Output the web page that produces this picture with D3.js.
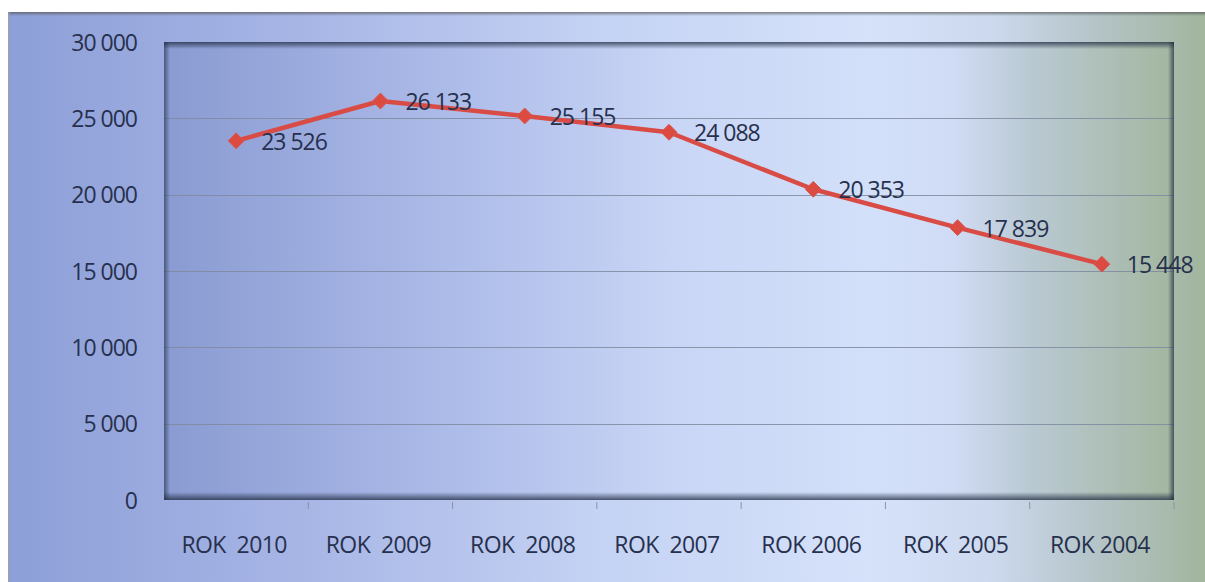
<!DOCTYPE html>
<html><head><meta charset="utf-8">
<script src="https://cdn.jsdelivr.net/npm/d3@7"></script>
<style>body{margin:0;background:#fff}svg{display:block}text{font-family:"Open Sans",sans-serif}</style>
</head><body><svg id="c" width="1205" height="582"></svg>
<script>
const categories = ["ROK  2010","ROK  2009","ROK  2008","ROK  2007","ROK 2006","ROK  2005","ROK 2004"];
const values = [23526, 26133, 25155, 24088, 20353, 17839, 15448];
const valueLabels = ["23 526","26 133","25 155","24 088","20 353","17 839","15 448"];
const yTicks = [0, 5000, 10000, 15000, 20000, 25000, 30000];
const yTickLabels = ["0","5 000","10 000","15 000","20 000","25 000","30 000"];

const svg = d3.select("#c");
const W = 1205, H = 582;
const frame = {x: 8, y: 12, w: W - 8, h: H - 12};
const plot = {l: 164, r: 1174, t: 42, b: 500};

const defs = svg.append("defs");
const bg = defs.append("linearGradient").attr("id","bg").attr("x1",0).attr("x2",1).attr("y1",0).attr("y2",0);
[[0,"#8d9fd8"],[0.25,"#a8b6e6"],[0.5,"#c5d3f4"],[0.72,"#d6e2fa"],[0.82,"#cdd9ee"],[0.9,"#b6c6cc"],[1,"#a2b59d"]]
  .forEach(([o,c])=>bg.append("stop").attr("offset",o).attr("stop-color",c));
const pg = defs.append("linearGradient").attr("id","pg").attr("x1",0).attr("x2",1).attr("y1",0).attr("y2",0);
[[0,"#8a9bd2"],[0.3,"#afbdea"],[0.5,"#c8d5f5"],[0.7,"#d3e0fa"],[0.78,"#d0dcf5"],[0.86,"#b9c9d2"],[1,"#a3b69f"]]
  .forEach(([o,c])=>pg.append("stop").attr("offset",o).attr("stop-color",c));

function edgeGrad(id, x1,y1,x2,y2, op){
  const g = defs.append("linearGradient").attr("id",id).attr("x1",x1).attr("y1",y1).attr("x2",x2).attr("y2",y2);
  g.append("stop").attr("offset",0).attr("stop-color","#1e2a40").attr("stop-opacity",op);
  g.append("stop").attr("offset",1).attr("stop-color","#1e2a40").attr("stop-opacity",0);
}
edgeGrad("sT",0,0,0,1,0.75); edgeGrad("sB",0,1,0,0,0.75); edgeGrad("sL",0,0,1,0,0.6); edgeGrad("sR",1,0,0,0,0.7);
const ft = defs.append("linearGradient").attr("id","ft").attr("x1",0).attr("y1",0).attr("x2",0).attr("y2",1);
ft.append("stop").attr("offset",0).attr("stop-color","#555").attr("stop-opacity",0.7);
ft.append("stop").attr("offset",1).attr("stop-color","#555").attr("stop-opacity",0);

svg.append("rect").attr("x",frame.x).attr("y",frame.y).attr("width",frame.w).attr("height",frame.h).attr("fill","url(#bg)");
svg.append("rect").attr("x",frame.x).attr("y",frame.y).attr("width",frame.w).attr("height",4).attr("fill","url(#ft)");
svg.append("rect").attr("x",frame.x).attr("y",frame.y).attr("width",2).attr("height",frame.h).attr("fill","#9aa0b0").attr("opacity",0.6);

svg.append("rect").attr("x",plot.l).attr("y",plot.t).attr("width",plot.r-plot.l).attr("height",plot.b-plot.t).attr("fill","url(#pg)");

const x = d3.scaleBand().domain(categories).range([plot.l, plot.r]).padding(0);
const y = d3.scaleLinear().domain([0, 30000]).range([plot.b, plot.t]);

svg.append("g").selectAll("line").data(yTicks.filter(v=>v>0 && v<30000)).join("line")
  .attr("x1",plot.l).attr("x2",plot.r).attr("y1",d=>Math.round(y(d))+0.5).attr("y2",d=>Math.round(y(d))+0.5)
  .attr("stroke","#7f8aa0").attr("stroke-width",1.2).attr("opacity",0.85);

svg.append("rect").attr("x",plot.l).attr("y",plot.t).attr("width",plot.r-plot.l).attr("height",7).attr("fill","url(#sT)");
svg.append("rect").attr("x",plot.l).attr("y",plot.b-8).attr("width",plot.r-plot.l).attr("height",8).attr("fill","url(#sB)");
svg.append("rect").attr("x",plot.l).attr("y",plot.t).attr("width",6).attr("height",plot.b-plot.t).attr("fill","url(#sL)");
svg.append("rect").attr("x",plot.r-6).attr("y",plot.t).attr("width",6).attr("height",plot.b-plot.t).attr("fill","url(#sR)");

const txtCol = "#27304d";
const yAxis = d3.axisLeft(y).tickValues(yTicks).tickSize(0).tickPadding(0)
  .tickFormat((d,i)=>yTickLabels[i]);
const ya = svg.append("g").attr("transform",`translate(${plot.l-27},0)`).call(yAxis);
ya.select(".domain").remove();
ya.selectAll("text").attr("fill",txtCol).style("font-size","23px").style("letter-spacing","-1px")
  .style("font-family","'Open Sans',sans-serif").attr("dy","0.35em");

const xa = d3.axisBottom(x).tickSize(0).tickPadding(0);
const xg = svg.append("g").attr("transform",`translate(0,${plot.b+45})`).call(xa);
xg.select(".domain").remove();
xg.selectAll("text").attr("fill",txtCol).style("font-size","23px").style("white-space","pre").style("letter-spacing","-0.6px")
  .style("font-family","'Open Sans',sans-serif").attr("dy","0.35em").attr("dx","-2");
svg.append("g").selectAll("line").data(categories).join("line")
  .attr("x1",(d,i)=> plot.l + (i+1)*x.bandwidth()).attr("x2",(d,i)=> plot.l + (i+1)*x.bandwidth())
  .attr("y1",plot.b+2).attr("y2",plot.b+9).attr("stroke","#8a92a6").attr("stroke-width",1);

const cx = d => x(d) + x.bandwidth()/2;
const data = categories.map((c,i)=>({c, v: values[i], l: valueLabels[i]}));
svg.append("path").datum(data)
  .attr("d", d3.line().x(d=>cx(d.c)).y(d=>y(d.v)))
  .attr("fill","none").attr("stroke","#d94c45").attr("stroke-width",4.5).attr("stroke-linejoin","round");
svg.append("g").selectAll("path").data(data).join("path")
  .attr("transform", d=>`translate(${cx(d.c)},${y(d.v)})`)
  .attr("d", d3.symbol(d3.symbolDiamond2, 160)())
  .attr("fill","#db4b42").attr("stroke","#d9574e").attr("stroke-width",1);

svg.append("g").selectAll("text").data(data).join("text")
  .attr("x", d=>cx(d.c)+25).attr("y", d=>y(d.v)+1).attr("dy","0.35em")
  .attr("fill",txtCol).style("font-size","23px").style("letter-spacing","-1px")
  .text(d=>d.l);
</script></body></html>
